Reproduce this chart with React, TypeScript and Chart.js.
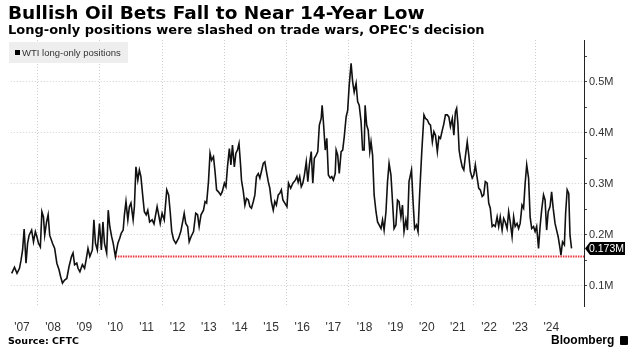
import React, { useEffect, useRef } from "react";
import { Chart, registerables } from "chart.js";

Chart.register(...registerables);

// Weekly WTI long-only positions (millions of contracts)
const dates: number[] = [
  2007.17, 2007.26, 2007.34, 2007.42, 2007.47, 2007.52, 2007.57, 2007.63, 2007.68, 2007.73, 2007.81, 2007.87, 2007.93, 2007.98,
  2008.03, 2008.09, 2008.14, 2008.19, 2008.23, 2008.29, 2008.34, 2008.39, 2008.48, 2008.55, 2008.62, 2008.69, 2008.74, 2008.80, 2008.87, 2008.94,
  2009.01, 2009.09, 2009.14, 2009.19, 2009.26, 2009.30, 2009.36, 2009.44, 2009.51, 2009.57, 2009.62, 2009.68, 2009.76, 2009.81, 2009.86, 2009.92, 2009.99,
  2010.05, 2010.10, 2010.15, 2010.22, 2010.27, 2010.32, 2010.38, 2010.43, 2010.50, 2010.58, 2010.64, 2010.69, 2010.75, 2010.79, 2010.84, 2010.90, 2010.95, 2011.00,
  2011.07, 2011.11, 2011.16, 2011.22, 2011.27, 2011.32, 2011.38, 2011.43, 2011.49, 2011.54, 2011.60, 2011.68, 2011.74, 2011.84, 2011.89, 2011.94, 2012.00,
  2012.07, 2012.15, 2012.21, 2012.26, 2012.31, 2012.37, 2012.44, 2012.53, 2012.60, 2012.66, 2012.71, 2012.76, 2012.82, 2012.87, 2012.93, 2013.01,
  2013.08, 2013.14, 2013.19, 2013.25, 2013.33, 2013.38, 2013.43, 2013.49, 2013.54, 2013.59, 2013.65, 2013.70, 2013.75, 2013.81, 2013.88, 2013.93, 2014.00,
  2014.05, 2014.10, 2014.16, 2014.21, 2014.26, 2014.32, 2014.37, 2014.42, 2014.47, 2014.52, 2014.55, 2014.61, 2014.66, 2014.71, 2014.77, 2014.82, 2014.87, 2014.93, 2014.98,
  2015.03, 2015.09, 2015.14, 2015.19, 2015.25, 2015.30, 2015.35, 2015.41, 2015.46, 2015.51, 2015.57, 2015.62, 2015.67, 2015.73, 2015.78, 2015.83, 2015.88, 2015.94,
  2016.01, 2016.06, 2016.13, 2016.20, 2016.28, 2016.33, 2016.37, 2016.42, 2016.47, 2016.52, 2016.57, 2016.63, 2016.68, 2016.73, 2016.79, 2016.84, 2016.89, 2016.95,
  2017.00, 2017.05, 2017.11, 2017.14, 2017.18, 2017.24, 2017.29, 2017.34, 2017.40, 2017.45, 2017.50, 2017.56, 2017.59, 2017.64, 2017.69, 2017.75, 2017.80, 2017.85, 2017.91, 2017.96,
  2018.01, 2018.07, 2018.12, 2018.17, 2018.23, 2018.28, 2018.33, 2018.39, 2018.44, 2018.49, 2018.52, 2018.57, 2018.62, 2018.67, 2018.71, 2018.76, 2018.81, 2018.87, 2018.92, 2018.97,
  2019.03, 2019.08, 2019.13, 2019.19, 2019.24, 2019.29, 2019.35, 2019.40, 2019.45, 2019.51, 2019.56, 2019.61, 2019.67, 2019.72, 2019.77, 2019.83, 2019.88, 2019.93,
  2020.01, 2020.06, 2020.11, 2020.17, 2020.22, 2020.27, 2020.34, 2020.41, 2020.46, 2020.52, 2020.57, 2020.62, 2020.68, 2020.73, 2020.78, 2020.84, 2020.89, 2020.94,
  2021.00, 2021.05, 2021.10, 2021.16, 2021.21, 2021.26, 2021.32, 2021.37, 2021.42, 2021.46, 2021.50, 2021.54, 2021.58, 2021.64, 2021.69, 2021.74, 2021.80, 2021.85, 2021.90, 2021.96,
  2022.01, 2022.06, 2022.12, 2022.17, 2022.22, 2022.28, 2022.33, 2022.38, 2022.44, 2022.49, 2022.54, 2022.60, 2022.65, 2022.70, 2022.76, 2022.81, 2022.86, 2022.92, 2022.97,
  2023.02, 2023.08, 2023.13, 2023.18, 2023.24, 2023.29, 2023.34, 2023.40, 2023.45, 2023.50, 2023.56, 2023.61, 2023.66, 2023.71, 2023.77, 2023.82, 2023.87, 2023.93, 2023.98,
  2024.03, 2024.09, 2024.14, 2024.19, 2024.25, 2024.30, 2024.35, 2024.40, 2024.46, 2024.51, 2024.56, 2024.62, 2024.67, 2024.72, 2024.78, 2024.81, 2024.86, 2024.92, 2024.96,
  2025.01, 2025.06, 2025.10, 2025.15,
];

const positions: number[] = [
  0.124, 0.136, 0.124, 0.134, 0.150, 0.170, 0.211, 0.144, 0.183, 0.199, 0.209, 0.186, 0.206, 0.196,
  0.183, 0.176, 0.245, 0.235, 0.199, 0.225, 0.239, 0.199, 0.183, 0.173, 0.144, 0.131, 0.118, 0.105, 0.111, 0.114,
  0.137, 0.157, 0.164, 0.141, 0.144, 0.134, 0.127, 0.141, 0.134, 0.154, 0.173, 0.157, 0.170, 0.229, 0.183, 0.170, 0.222,
  0.170, 0.225, 0.183, 0.164, 0.248, 0.216, 0.196, 0.183, 0.157, 0.183, 0.193, 0.203, 0.209, 0.239, 0.265, 0.229, 0.255, 0.262,
  0.229, 0.255, 0.333, 0.307, 0.327, 0.314, 0.275, 0.245, 0.239, 0.248, 0.225, 0.229, 0.221, 0.255, 0.239, 0.222, 0.242,
  0.229, 0.288, 0.278, 0.245, 0.206, 0.190, 0.183, 0.193, 0.206, 0.225, 0.242, 0.222, 0.216, 0.186, 0.196, 0.206,
  0.242, 0.239, 0.216, 0.239, 0.248, 0.265, 0.262, 0.304, 0.360, 0.346, 0.353, 0.324, 0.288, 0.284, 0.278, 0.284, 0.301,
  0.294, 0.333, 0.369, 0.337, 0.376, 0.333, 0.360, 0.366, 0.379, 0.337, 0.307, 0.284, 0.258, 0.271, 0.268, 0.255, 0.252, 0.265, 0.278,
  0.314, 0.320, 0.311, 0.324, 0.340, 0.343, 0.324, 0.304, 0.291, 0.265, 0.248, 0.265, 0.258, 0.278, 0.281, 0.288, 0.268, 0.262,
  0.255, 0.301, 0.291, 0.301, 0.307, 0.314, 0.303, 0.314, 0.294, 0.301, 0.317, 0.343, 0.304, 0.337, 0.363, 0.301, 0.350, 0.356,
  0.363, 0.415, 0.428, 0.454, 0.422, 0.366, 0.389, 0.317, 0.311, 0.314, 0.307, 0.320, 0.366, 0.356, 0.320, 0.363, 0.366, 0.392, 0.431, 0.444,
  0.494, 0.536, 0.500, 0.480, 0.497, 0.461, 0.454, 0.422, 0.366, 0.366, 0.454, 0.415, 0.405, 0.363, 0.382, 0.356, 0.278, 0.245, 0.225, 0.219,
  0.212, 0.229, 0.209, 0.245, 0.304, 0.340, 0.317, 0.265, 0.212, 0.219, 0.268, 0.265, 0.235, 0.258, 0.206, 0.229, 0.209, 0.304,
  0.327, 0.265, 0.212, 0.219, 0.206, 0.278, 0.363, 0.435, 0.428, 0.425, 0.418, 0.415, 0.382, 0.402, 0.395, 0.363, 0.392, 0.389,
  0.405, 0.418, 0.435, 0.435, 0.431, 0.412, 0.428, 0.395, 0.441, 0.448, 0.418, 0.366, 0.350, 0.333, 0.327, 0.353, 0.382, 0.356, 0.324, 0.311,
  0.317, 0.337, 0.311, 0.291, 0.288, 0.275, 0.278, 0.304, 0.301, 0.262, 0.252, 0.216, 0.219, 0.216, 0.235, 0.216, 0.235, 0.209, 0.232,
  0.225, 0.212, 0.245, 0.225, 0.196, 0.235, 0.216, 0.222, 0.212, 0.222, 0.258, 0.252, 0.301, 0.337, 0.311, 0.235, 0.212, 0.216, 0.206,
  0.216, 0.173, 0.216, 0.248, 0.278, 0.268, 0.209, 0.245, 0.255, 0.284, 0.252, 0.222, 0.209, 0.196, 0.173, 0.160, 0.186, 0.180, 0.242,
  0.288, 0.281, 0.199, 0.173,
];

// Reference level: lowest reading since mid-2010
const lowLevel = 0.157;
const lowSince = 2010.5;

// Axes
const xMin = 2007.14;
const xMax = 2025.55;
const labelYears: number[] = [2007, 2008, 2009, 2010, 2011, 2012, 2013, 2014, 2015, 2016, 2017, 2018, 2019, 2020, 2021, 2022, 2023, 2024];
const gridYears: number[] = [2008, 2010, 2012, 2014, 2016, 2018, 2020, 2022, 2024];
const yTicks: number[] = [0.1, 0.15, 0.2, 0.25, 0.3, 0.35, 0.4, 0.45, 0.5, 0.55];
const yMin = 0.06;
const yMax = 0.582;

const AXIS_FONT = "'Liberation Sans', Arial, sans-serif";
const HEAD_FONT = "'DejaVu Sans', 'Liberation Sans', sans-serif";

const isMajorY = (v: number) => Math.abs(v * 10 - Math.round(v * 10)) < 1e-6;

const lastTagPlugin = {
  id: "lastTag",
  afterDraw(chart: any) {
    const ctx = chart.ctx;
    const y = chart.scales.y;
    const last = positions[positions.length - 1];
    const py = Math.round(y.getPixelForValue(last)) + 0.5;
    const px = chart.chartArea.right + 1;
    ctx.save();
    ctx.fillStyle = "#000";
    ctx.beginPath();
    ctx.moveTo(px, py);
    ctx.lineTo(px + 5, py - 6.5);
    ctx.lineTo(px + 40, py - 6.5);
    ctx.lineTo(px + 40, py + 6.5);
    ctx.lineTo(px + 5, py + 6.5);
    ctx.closePath();
    ctx.fill();
    ctx.fillStyle = "#fff";
    ctx.font = `10.5px ${AXIS_FONT}`;
    ctx.textBaseline = "middle";
    ctx.textAlign = "left";
    ctx.fillText(last.toFixed(3) + "M", px + 4, py + 0.5);
    ctx.restore();
  },
};

function BloombergChart() {
  const canvasRef = useRef<HTMLCanvasElement | null>(null);

  useEffect(() => {
    if (!canvasRef.current) return;
    const chart = new Chart(canvasRef.current, {
      type: "line",
      data: {
        datasets: [
          {
            label: "WTI long-only positions",
            data: dates.map((d, i) => ({ x: d, y: positions[i] })),
            borderColor: "#111111",
            borderWidth: 1.6,
            pointRadius: 0,
            tension: 0,
            order: 1,
          },
          {
            label: "low",
            data: [
              { x: lowSince, y: lowLevel },
              { x: xMax, y: lowLevel },
            ],
            borderColor: "#e8333a",
            borderWidth: 2,
            borderDash: [1.5, 1],
            pointRadius: 0,
            order: 2,
          },
        ],
      },
      options: {
        animation: false,
        responsive: true,
        maintainAspectRatio: false,
        layout: { padding: { left: 8, right: 8, top: 40, bottom: 0 } },
        plugins: {
          legend: { display: false },
          tooltip: { enabled: false },
          title: { display: false },
        },
        scales: {
          x: {
            type: "linear",
            min: xMin,
            max: xMax,
            afterBuildTicks: (scale: any) => {
              const vals = [...gridYears, ...labelYears.map((y) => y + 0.5)].sort((a, b) => a - b);
              scale.ticks = vals.map((v) => ({ value: v }));
            },
            afterFit: (scale: any) => {
              scale.height = 47;
            },
            ticks: {
              autoSkip: false,
              maxRotation: 0,
              minRotation: 0,
              padding: 14,
              color: "#333333",
              font: { family: AXIS_FONT, size: 12 },
              callback: (value: any) =>
                Number.isInteger(value) ? "" : "'" + String(Math.floor(value)).slice(2),
            },
            grid: {
              drawTicks: false,
              lineWidth: 1,
              color: (ctx: any) =>
                ctx.tick && Number.isInteger(ctx.tick.value) ? "#cfcfcf" : "rgba(0,0,0,0)",
            },
            border: { display: false, dash: [1, 2] },
          },
          y: {
            type: "linear",
            position: "right",
            min: yMin,
            max: yMax,
            afterBuildTicks: (scale: any) => {
              scale.ticks = yTicks.map((v) => ({ value: v }));
            },
            afterFit: (scale: any) => {
              scale.width = 45;
            },
            ticks: {
              padding: 2,
              color: "#333333",
              font: { family: AXIS_FONT, size: 11 },
              callback: (value: any) => (isMajorY(value) ? value.toFixed(1) + "M" : ""),
            },
            grid: {
              drawTicks: true,
              tickLength: 3,
              tickColor: "#444444",
              tickWidth: 1,
              lineWidth: 1,
              color: (ctx: any) =>
                ctx.tick && isMajorY(ctx.tick.value) ? "#cfcfcf" : "rgba(0,0,0,0)",
            },
            border: { display: true, color: "#222222", width: 1, dash: [1, 2] },
          },
        },
      },
      plugins: [lastTagPlugin],
    });
    return () => chart.destroy();
  }, []);

  return <canvas ref={canvasRef} />;
}

export default function App() {
  return (
    <div
      style={{
        position: "fixed",
        left: 0,
        top: 0,
        width: 637,
        height: 353,
        background: "#ffffff",
        overflow: "hidden",
        fontFamily: AXIS_FONT,
      }}
    >
      <div style={{ position: "absolute", left: 0, top: 0, width: 637, height: 353 }}>
        <BloombergChart />
      </div>
      <div
        style={{
          position: "absolute",
          left: 8,
          top: 1,
          fontFamily: HEAD_FONT,
          fontWeight: 700,
          fontSize: 18.5,
          lineHeight: "24px",
          color: "#000",
          whiteSpace: "nowrap",
        }}
      >
        Bullish Oil Bets Fall to Near 14-Year Low
      </div>
      <div
        style={{
          position: "absolute",
          left: 8,
          top: 21,
          fontFamily: HEAD_FONT,
          fontWeight: 700,
          fontSize: 13,
          lineHeight: "18px",
          color: "#000",
          whiteSpace: "nowrap",
        }}
      >
        Long-only positions were slashed on trade wars, OPEC's decision
      </div>
      <div
        style={{
          position: "absolute",
          left: 9,
          top: 42,
          width: 119,
          height: 21,
          background: "#eeeeee",
          display: "flex",
          alignItems: "center",
          fontSize: 9.5,
          color: "#333",
          whiteSpace: "nowrap",
        }}
      >
        <span style={{ display: "inline-block", width: 5, height: 5, background: "#000", marginLeft: 6, marginRight: 2 }} />
        WTI long-only positions
      </div>
      <div
        style={{
          position: "absolute",
          left: 8,
          top: 334,
          fontFamily: HEAD_FONT,
          fontWeight: 700,
          fontSize: 9.5,
          lineHeight: "14px",
          color: "#000",
          whiteSpace: "nowrap",
        }}
      >
        Source: CFTC
      </div>
      <div
        style={{
          position: "absolute",
          left: 551,
          top: 332,
          fontWeight: 700,
          fontSize: 12,
          lineHeight: "16px",
          color: "#000",
          whiteSpace: "nowrap",
          display: "flex",
          alignItems: "center",
        }}
      >
        Bloomberg
        <span
          style={{
            display: "inline-block",
            width: 8,
            height: 9,
            marginLeft: 6,
            background: "#000",
            borderRadius: 1,
          }}
        />
      </div>
    </div>
  );
}
